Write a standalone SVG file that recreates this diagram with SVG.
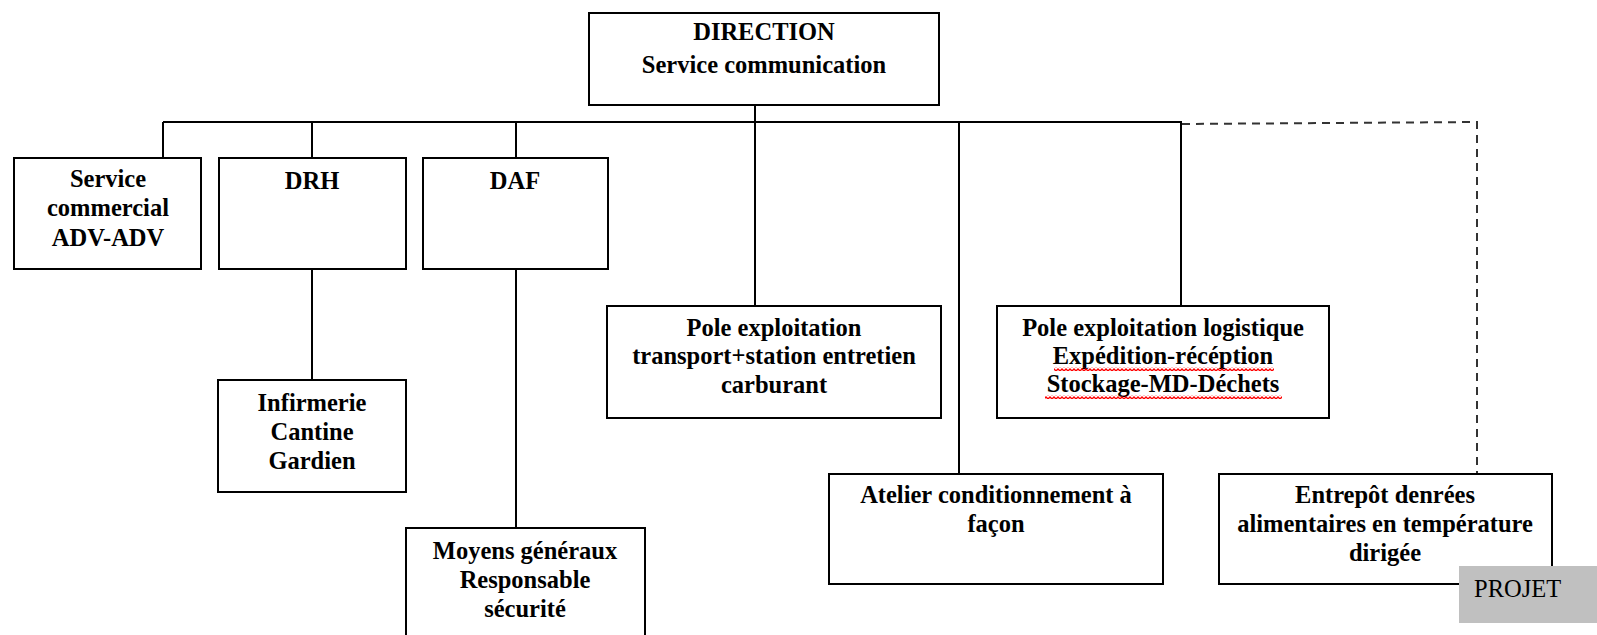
<svg xmlns="http://www.w3.org/2000/svg" width="1597" height="635" viewBox="0 0 1597 635">
<style>
.box{fill:#fff;stroke:#000;stroke-width:2}
.ln{fill:none;stroke:#000;stroke-width:2}
.dash{fill:none;stroke:#333;stroke-width:2;stroke-dasharray:8,6}
.t{font-family:"Liberation Serif","Times New Roman",serif;font-weight:bold;font-size:24.5px;text-anchor:middle;fill:#000}
.p{font-family:"Liberation Serif","Times New Roman",serif;font-size:24.5px;fill:#000}
</style>
<defs>
<pattern id="wave" x="0" y="0" width="4" height="4" patternUnits="userSpaceOnUse">
<path d="M0,3 L2,1 L4,3" fill="none" stroke="#f00" stroke-width="1.3"/>
</pattern>
</defs>
<rect width="1597" height="635" fill="#fff"/>
<g id="connectors">
<path class="ln" d="M755,105 V306"/>
<path class="ln" d="M163,122 H1182"/>
<path class="ln" d="M163,122 V158"/>
<path class="ln" d="M312,122 V158 M312,269 V380"/>
<path class="ln" d="M516,122 V158 M516,269 V528"/>
<path class="ln" d="M959,122 V474"/>
<path class="ln" d="M1181,122 V306"/>
<path class="dash" d="M1182,124 L1477,122 V474"/>
</g>
<g id="direction">
<rect class="box" x="589" y="13" width="350" height="92"/>
<text class="t" x="764" y="40">DIRECTION</text>
<text class="t" x="764" y="73">Service communication</text>
</g>
<g id="service-commercial">
<rect class="box" x="14" y="158" width="187" height="111"/>
<text class="t" x="108" y="187">Service</text>
<text class="t" x="108" y="216">commercial</text>
<text class="t" x="108" y="246">ADV-ADV</text>
</g>
<g id="drh">
<rect class="box" x="219" y="158" width="187" height="111"/>
<text class="t" x="312" y="189">DRH</text>
</g>
<g id="daf">
<rect class="box" x="423" y="158" width="185" height="111"/>
<text class="t" x="515" y="189">DAF</text>
</g>
<g id="infirmerie">
<rect class="box" x="218" y="380" width="188" height="112"/>
<text class="t" x="312" y="411">Infirmerie</text>
<text class="t" x="312" y="440">Cantine</text>
<text class="t" x="312" y="469">Gardien</text>
</g>
<g id="moyens-generaux">
<rect class="box" x="406" y="528" width="239" height="120"/>
<text class="t" x="525" y="559">Moyens généraux</text>
<text class="t" x="525" y="588">Responsable</text>
<text class="t" x="525" y="617">sécurité</text>
</g>
<g id="pole-transport">
<rect class="box" x="607" y="306" width="334" height="112"/>
<text class="t" x="774" y="336">Pole exploitation</text>
<text class="t" x="774" y="364">transport+station entretien</text>
<text class="t" x="774" y="393">carburant</text>
</g>
<g id="pole-logistique">
<rect class="box" x="997" y="306" width="332" height="112"/>
<text class="t" x="1163" y="336">Pole exploitation logistique</text>
<text class="t" x="1163" y="364">Expédition-récéption</text>
<text class="t" x="1163" y="392">Stockage-MD-Déchets</text>
<rect x="1054" y="367" width="220" height="4" fill="url(#wave)"/>
<rect x="1045" y="395" width="237" height="4" fill="url(#wave)"/>
</g>
<g id="atelier">
<rect class="box" x="829" y="474" width="334" height="110"/>
<text class="t" x="996" y="503">Atelier conditionnement à</text>
<text class="t" x="996" y="532">façon</text>
</g>
<g id="entrepot">
<rect class="box" x="1219" y="474" width="333" height="110"/>
<text class="t" x="1385" y="503">Entrepôt denrées</text>
<text class="t" x="1385" y="532">alimentaires en température</text>
<text class="t" x="1385" y="561">dirigée</text>
</g>
<g id="projet">
<rect x="1459" y="566" width="140" height="57" fill="#c0c0c0"/>
<text class="p" x="1474" y="597">PROJET</text>
</g>
</svg>
